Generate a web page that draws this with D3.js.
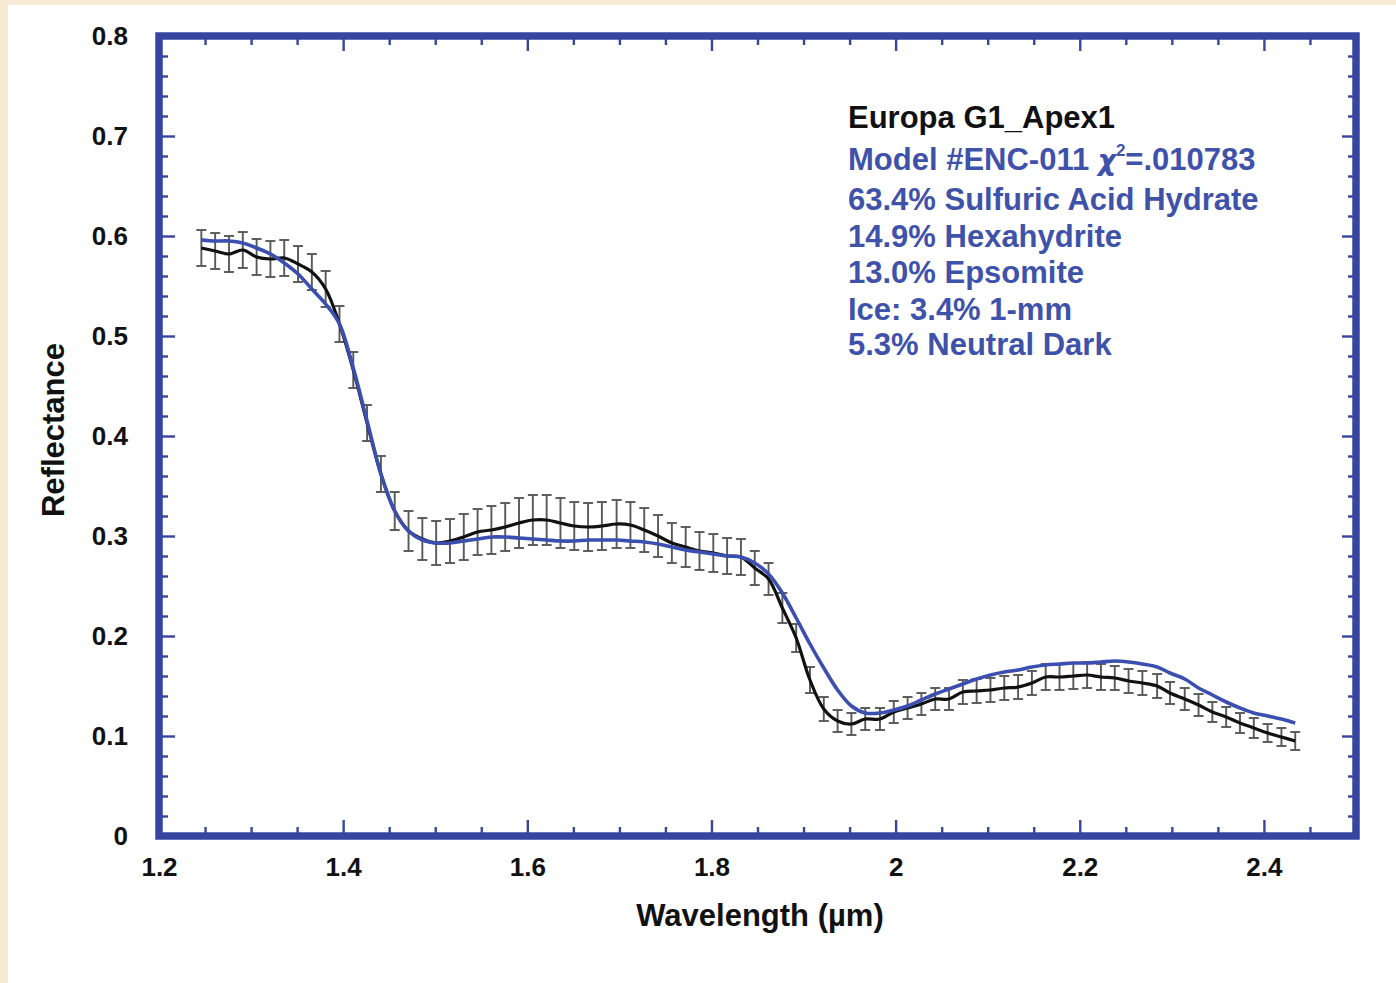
<!DOCTYPE html>
<html>
<head>
<meta charset="utf-8">
<script src="https://cdn.jsdelivr.net/npm/d3@7"></script>
<style>
  html, body { margin: 0; padding: 0; background: #f7ecd3; }
  svg { display: block; }
  text { font-family: "Liberation Sans", Arial, Helvetica, sans-serif; font-weight: bold; }
</style>
</head>
<body>
<script>
// ---- data ----
const wavelength = [1.246, 1.261, 1.276, 1.291, 1.306, 1.321, 1.336, 1.351, 1.366, 1.381,
  1.396, 1.411, 1.426, 1.441, 1.456, 1.471, 1.486, 1.501, 1.516, 1.531,
  1.546, 1.561, 1.576, 1.591, 1.606, 1.621, 1.636, 1.651, 1.666, 1.681,
  1.697, 1.712, 1.727, 1.742, 1.757, 1.772, 1.787, 1.802, 1.817, 1.832,
  1.847, 1.862, 1.877, 1.892, 1.907, 1.922, 1.937, 1.952, 1.967, 1.983,
  1.998, 2.013, 2.028, 2.043, 2.058, 2.073, 2.088, 2.103, 2.118, 2.133,
  2.148, 2.163, 2.178, 2.193, 2.208, 2.223, 2.238, 2.253, 2.268, 2.284,
  2.298, 2.314, 2.329, 2.344, 2.359, 2.374, 2.389, 2.404, 2.419, 2.434];

const observed = [0.588, 0.585, 0.582, 0.586, 0.579, 0.577, 0.578, 0.572, 0.564, 0.547,
  0.512, 0.466, 0.413, 0.362, 0.325, 0.305, 0.297, 0.293, 0.295, 0.299,
  0.304, 0.306, 0.309, 0.313, 0.316, 0.316, 0.313, 0.310, 0.309, 0.310,
  0.312, 0.311, 0.306, 0.300, 0.293, 0.289, 0.285, 0.283, 0.280, 0.279,
  0.268, 0.257, 0.228, 0.198, 0.156, 0.127, 0.115, 0.112, 0.117, 0.117,
  0.124, 0.128, 0.132, 0.137, 0.137, 0.144, 0.145, 0.146, 0.148, 0.149,
  0.153, 0.159, 0.159, 0.160, 0.161, 0.159, 0.158, 0.155, 0.153, 0.150,
  0.143, 0.137, 0.131, 0.124, 0.119, 0.113, 0.108, 0.103, 0.099, 0.095];

const errorHalf = [0.018, 0.018, 0.018, 0.018, 0.018, 0.018, 0.018, 0.018, 0.018, 0.018,
  0.018, 0.018, 0.018, 0.018, 0.019, 0.020, 0.021, 0.022, 0.022, 0.023,
  0.023, 0.024, 0.024, 0.025, 0.025, 0.025, 0.025, 0.024, 0.024, 0.024,
  0.024, 0.023, 0.022, 0.021, 0.020, 0.020, 0.019, 0.019, 0.018, 0.018,
  0.017, 0.016, 0.015, 0.014, 0.013, 0.012, 0.011, 0.011, 0.011, 0.011,
  0.011, 0.011, 0.011, 0.011, 0.011, 0.012, 0.012, 0.012, 0.012, 0.012,
  0.012, 0.013, 0.013, 0.013, 0.013, 0.013, 0.012, 0.012, 0.012, 0.012,
  0.011, 0.011, 0.011, 0.010, 0.010, 0.010, 0.010, 0.009, 0.009, 0.009];

const model = [0.596, 0.595, 0.595, 0.593, 0.588, 0.582, 0.573, 0.562, 0.547, 0.532,
  0.512, 0.468, 0.415, 0.362, 0.325, 0.305, 0.296, 0.293, 0.293, 0.295,
  0.297, 0.299, 0.299, 0.298, 0.297, 0.296, 0.295, 0.295, 0.296, 0.296,
  0.296, 0.295, 0.294, 0.292, 0.289, 0.286, 0.284, 0.282, 0.280, 0.279,
  0.273, 0.262, 0.243, 0.218, 0.192, 0.168, 0.146, 0.130, 0.123, 0.123,
  0.126, 0.130, 0.136, 0.142, 0.147, 0.152, 0.157, 0.161, 0.164, 0.166,
  0.169, 0.171, 0.172, 0.173, 0.173, 0.174, 0.175, 0.174, 0.172, 0.169,
  0.163, 0.157, 0.148, 0.141, 0.134, 0.128, 0.123, 0.120, 0.117, 0.113];

const xMajorTicks = [1.2, 1.4, 1.6, 1.8, 2.0, 2.2, 2.4];
const xTickLabels = ["1.2", "1.4", "1.6", "1.8", "2", "2.2", "2.4"];
const xMinorTicks = [1.25, 1.3, 1.35, 1.45, 1.5, 1.55, 1.65, 1.7, 1.75, 1.85, 1.9, 1.95,
  2.05, 2.1, 2.15, 2.25, 2.3, 2.35, 2.45];
const yMajorTicks = [0, 0.1, 0.2, 0.3, 0.4, 0.5, 0.6, 0.7, 0.8];
const yTickLabels = ["0", "0.1", "0.2", "0.3", "0.4", "0.5", "0.6", "0.7", "0.8"];
const yMinorTicks = [0.02, 0.04, 0.06, 0.08, 0.12, 0.14, 0.16, 0.18, 0.22, 0.24, 0.26, 0.28,
  0.32, 0.34, 0.36, 0.38, 0.42, 0.44, 0.46, 0.48, 0.52, 0.54, 0.56, 0.58,
  0.62, 0.64, 0.66, 0.68, 0.72, 0.74, 0.76, 0.78];

const legendTitle = "Europa G1_Apex1";
const legendLines = ["63.4% Sulfuric Acid Hydrate", "14.9% Hexahydrite", "13.0% Epsomite",
  "Ice: 3.4% 1-mm", "5.3% Neutral Dark"];

// ---- layout ----
const W = 1396, H = 983;
const L = 159, R = 1356, T = 36, B = 836;
const frameColor = "#3646a0";
const modelColor = "#3a4fb0";
const textBlue = "#3f52aa";

const svg = d3.select("body").append("svg").attr("width", W).attr("height", H);
svg.append("rect").attr("x", 8).attr("y", 5).attr("width", W - 8).attr("height", H - 5).attr("fill", "#ffffff");

const x = d3.scaleLinear().domain([1.2, 2.5]).range([L, R]);
const y = d3.scaleLinear().domain([0, 0.8]).range([B, T]);

function styleAxis(g) {
  g.select(".domain").remove();
  g.selectAll(".tick line").attr("stroke", frameColor).attr("stroke-width", 2.4);
  g.selectAll(".tick text").attr("fill", "#111").attr("font-size", 26)
    .attr("font-family", '"Liberation Sans", Arial, sans-serif').attr("font-weight", "bold");
}

// bottom
svg.append("g").attr("transform", `translate(0,${B})`)
  .call(d3.axisBottom(x).tickValues(xMinorTicks).tickSize(-9).tickFormat(""))
  .call(styleAxis);
svg.append("g").attr("transform", `translate(0,${B})`)
  .call(d3.axisBottom(x).tickValues(xMajorTicks).tickSize(-16).tickPadding(22)
    .tickFormat((d, i) => xTickLabels[i]))
  .call(styleAxis);
// top
svg.append("g").attr("transform", `translate(0,${T})`)
  .call(d3.axisTop(x).tickValues(xMinorTicks).tickSize(-9).tickFormat(""))
  .call(styleAxis);
svg.append("g").attr("transform", `translate(0,${T})`)
  .call(d3.axisTop(x).tickValues(xMajorTicks).tickSize(-15).tickFormat(""))
  .call(styleAxis);
// left
svg.append("g").attr("transform", `translate(${L},0)`)
  .call(d3.axisLeft(y).tickValues(yMinorTicks).tickSize(-9).tickFormat(""))
  .call(styleAxis);
svg.append("g").attr("transform", `translate(${L},0)`)
  .call(d3.axisLeft(y).tickValues(yMajorTicks).tickSize(-16).tickPadding(31)
    .tickFormat((d, i) => yTickLabels[i]))
  .call(styleAxis);
// right
svg.append("g").attr("transform", `translate(${R},0)`)
  .call(d3.axisRight(y).tickValues(yMinorTicks).tickSize(-8).tickFormat(""))
  .call(styleAxis);
svg.append("g").attr("transform", `translate(${R},0)`)
  .call(d3.axisRight(y).tickValues(yMajorTicks).tickSize(-14).tickFormat(""))
  .call(styleAxis);

// frame
svg.append("rect").attr("x", L).attr("y", T).attr("width", R - L).attr("height", B - T)
  .attr("fill", "none").attr("stroke", frameColor).attr("stroke-width", 7.5);

// data
const pts = wavelength.map((w, i) => ({ w, v: observed[i], e: errorHalf[i], m: model[i] }));

const eb = svg.append("g").attr("stroke", "#585858").attr("stroke-width", 1.9).attr("fill", "none");
const cap = 5;
pts.forEach(p => {
  const px = x(p.w);
  eb.append("line").attr("x1", px).attr("x2", px).attr("y1", y(p.v - p.e)).attr("y2", y(p.v + p.e));
  eb.append("line").attr("x1", px - cap).attr("x2", px + cap).attr("y1", y(p.v - p.e)).attr("y2", y(p.v - p.e));
  eb.append("line").attr("x1", px - cap).attr("x2", px + cap).attr("y1", y(p.v + p.e)).attr("y2", y(p.v + p.e));
});

svg.append("path").datum(pts)
  .attr("fill", "none").attr("stroke", "#111").attr("stroke-width", 3.2)
  .attr("stroke-linejoin", "round")
  .attr("d", d3.line().x(d => x(d.w)).y(d => y(d.v)).curve(d3.curveCatmullRom));

svg.append("path").datum(pts)
  .attr("fill", "none").attr("stroke", modelColor).attr("stroke-width", 3.6)
  .attr("stroke-linejoin", "round")
  .attr("d", d3.line().x(d => x(d.w)).y(d => y(d.m)).curve(d3.curveCatmullRom));

// axis titles
svg.append("text").attr("x", 760).attr("y", 926).attr("text-anchor", "middle")
  .attr("font-size", 31).attr("fill", "#111").text("Wavelength (µm)");
svg.append("text").attr("transform", "translate(64,430) rotate(-90)").attr("text-anchor", "middle")
  .attr("font-size", 31).attr("fill", "#111").text("Reflectance");

// legend text
const lx = 848;
svg.append("text").attr("x", lx).attr("y", 128).attr("font-size", 31).attr("fill", "#111").text(legendTitle);
const mt = svg.append("text").attr("x", lx).attr("y", 170).attr("font-size", 31).attr("fill", textBlue);
mt.append("tspan").text("Model #ENC-011 ");
mt.append("tspan").attr("font-style", "italic").attr("font-family", '"DejaVu Sans", sans-serif')
  .attr("font-size", 28).text("χ");
mt.append("tspan").attr("font-size", 17).attr("dy", -14).text("2");
mt.append("tspan").attr("dy", 14).text("=.010783");
const lineY = [210, 247, 283, 320, 355];
legendLines.forEach((t, i) => {
  svg.append("text").attr("x", lx).attr("y", lineY[i]).attr("font-size", 31).attr("fill", textBlue).text(t);
});
</script>
</body>
</html>
